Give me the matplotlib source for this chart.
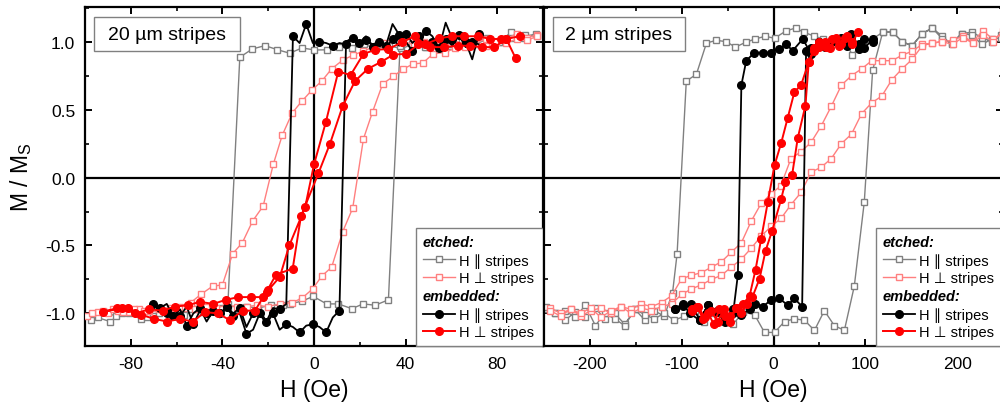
import matplotlib.pyplot as plt
from matplotlib.lines import Line2D
from matplotlib.patches import Rectangle
from matplotlib.ticker import MultipleLocator

plt.rcParams['font.family'] = ['Liberation Sans', 'DejaVu Sans']
plt.rcParams['axes.unicode_minus'] = False

# ---- 20 um stripes (left panel); each loop = descending branch + ascending branch ----
h20_etch_par = [97.4, 92, 86.6, 81.2, 75.8, 70.4, 65, 59.6, 54.2, 48.8, 43.4, 38, 32.6, 27.2, 21.8, 16.4, 11, 5.6, 0.2, -5.2,
                -10.6, -16, -21.4, -27, -32.4, -37.6, -43.2, -48.6, -54, -59.4, -64.8, -70.2, -75.6, -81, -86.4, -91.8, -97.2,
                -94.5, -89.1, -83.7, -78.3, -72.9, -67.5, -62.1, -56.7, -51.3, -45.9, -40.5, -35.1, -29.7, -24.3, -18.9, -13.4,
                -10.5, -5.4, -0.3, 5.5, 10.6, 16.5, 21.5, 26.7, 32.5, 37.6, 43, 48.4, 53.8, 59.2, 64.6, 70, 75.4, 80.8, 86.2, 91.6, 97]
m20_etch_par = [1.04, 1.05, 1.03, 1.0, 1.02, 0.98, 1.0, 0.97, 1.0, 0.96, 0.98, 0.95, 0.97, 0.95, 0.98, 0.95, 0.96, 0.94, 0.939, 0.954,
                0.915, 0.941, 0.971, 0.946, 0.885, -0.93, -0.97, -0.99, -0.97, -1.0, -0.98, -1.02, -1.04, -1.0, -1.02, -0.99, -1.05,
                -1.03, -1.06, -1.0, -0.98, -1.03, -1.0, -0.99, -1.01, -0.97, -0.98, -0.96, -0.97, -0.95, -0.96, -0.94, -0.94,
                -0.93, -0.91, -0.875, -0.93, -0.93, -0.965, -0.93, -0.94, -0.90, 0.97, 0.98, 0.96, 0.99, 0.98, 1.0, 0.99, 1.03, 1.0, 1.07, 1.03, 1.06]

h20_etch_perp = [97.5, 93, 88.5, 84, 79.5, 75, 70.5, 66, 61.5, 57, 52.5, 48, 43.5, 39, 34.5, 30, 25.8, 21.4, 17, 12.6,
                 7.7, 3.4, -0.7, -5.4, -9.5, -13.9, -17.8, -22.2, -26.8, -31.3, -35.5, -40, -44.3, -49.4, -53.8, -58.5, -63, -67.5,
                 -72, -76.5, -81, -85.5, -90, -94.5, -99,
                 -96.8, -92.3, -87.8, -83.3, -78.8, -74.3, -69.8, -65.3, -60.8, -56.3, -51.8, -47.3, -42.8, -38.3, -33.8, -29.3,
                 -24.8, -20.3, -14.9, -9.7, -5.4, -0.6, 3.4, 7.7, 12.5, 16.9, 21.6, 25.6, 30, 34.7, 39, 43.4, 47.5, 52, 57, 61.5,
                 66, 70.5, 75, 79.5, 84, 88.5, 93, 97.5]
m20_etch_perp = [1.05, 1.03, 1.06, 1.02, 1.0, 1.02, 0.99, 1.0, 0.98, 0.99, 0.99, 1.0, 0.98, 1.0, 1.02, 0.99, 0.96, 0.93, 0.90, 0.865,
                 0.80, 0.71, 0.647, 0.56, 0.476, 0.31, 0.096, -0.21, -0.32, -0.48, -0.56, -0.79, -0.80, -0.86, -0.92, -0.95, -0.96, -0.97,
                 -0.98, -0.97, -0.99, -0.98, -1.0, -0.99, -1.02,
                 -1.0, -0.98, -0.97, -0.99, -0.97, -0.98, -0.96, -0.98, -0.97, -0.96, -0.97, -0.95, -0.96, -0.94, -0.95, -0.95,
                 -0.94, -0.95, -0.93, -0.92, -0.89, -0.82, -0.725, -0.66, -0.40, -0.225, 0.285, 0.485, 0.69, 0.745, 0.80, 0.836, 0.843, 0.91, 0.92, 0.95,
                 0.96, 0.98, 0.97, 1.0, 0.99, 1.02, 1.01, 1.04]

h20_emb_par = [72.0, 69.1, 66.2, 63.3, 60.4, 57.5, 54.6, 51.7, 48.8, 45.9, 43.0, 40.1, 37.2, 34.3, 31.4, 28.5, 25.6, 22.7, 19.8, 16.9,
               14.0, 11.1, 8.2, 5.3, 2.4, -0.5, -3.4, -6.3, -9.2, -12.1, -15.0, -17.9, -20.8, -23.7, -26.6, -29.5, -32.4, -35.3, -38.2, -41.1,
               -44.0, -46.9, -49.8, -52.7, -55.6, -58.5, -61.4, -64.3, -67.2, -70.1,
               -70.1, -67.2, -64.3, -61.4, -58.5, -55.6, -52.7, -49.8, -46.9, -44.0, -41.1, -38.2, -35.3, -32.4, -29.5, -26.6, -23.7, -20.8,
               -17.9, -15.0, -12.1, -9.2, -6.3, -3.4, -0.5, 2.4, 5.3, 8.2, 11.1, 14.0, 16.9, 19.8, 22.7, 25.6, 28.5, 31.4, 34.3, 37.2,
               40.1, 43.0, 45.9, 48.8, 51.7, 54.6, 57.5, 60.4, 63.3, 66.2, 69.1, 72.0]
m20_emb_par = [1.06, 0.87, 1.0, 0.96, 1.02, 1.14, 0.95, 1.04, 1.08, 0.98, 0.93, 1.0, 1.05, 1.13, 0.97, 1.0, 0.96, 1.04, 0.99, 1.02,
               0.98, 0.99, 0.97, 0.99, 1.0, 0.99, 1.13, 0.99, 1.04, -0.93, -0.97, -0.96, -1.06, -0.98, -1.0, -1.1, -0.96, -1.0, -0.95, -1.03,
               -0.98, -1.06, -0.96, -1.0, -1.09, -0.97, -1.02, -0.93, -0.96, -0.94,
               -0.93, -0.97, -1.0, -0.96, -1.02, -0.95, -1.08, -0.98, -1.0, -0.96, -1.0, -0.96, -1.02, -1.0, -1.15, -1.12, -1.0, -1.08,
               -1.0, -1.12, -1.08, -1.1, -1.14, -1.09, -1.08, -1.1, -1.14, -1.03, -0.98, 1.0, 1.03, 0.97, 1.01, 0.98, 1.0, 0.96, 1.02, 0.97,
               1.06, 0.99, 1.04, 0.98, 1.0, 0.96, 1.02, 0.97, 1.05, 0.96, 1.0, 0.98]

h20_emb_perp = [89.8, 84, 81.7, 77, 71.4, 65.7, 60.2, 54.8, 48.5, 44, 38.3, 32.5, 26.7, 21.6, 16, 10.6, 5.2, 0, -3.9, -10.8,
                -14.9, -20, -22.4, -27.7, -33, -38.5, -44, -49.8, -55.2, -60.8, -66, -72, -78, -84, -92,
                -86, -81.2, -75.4, -69.9, -64.1, -58.6, -52.8, -47.7, -42, -36.7, -31.2, -25.8, -20.7, -16.6, -9.3, -5.7, 1.9, 7, 12.5, 17.9,
                23.5, 29.2, 34.7, 40.2, 45.6, 50.5, 56.6, 62.9, 68.2, 73.3, 78.7, 84, 88]
m20_emb_perp = [1.04, 1.02, 1.02, 1.02, 1.04, 1.04, 1.04, 1.025, 0.98, 1.04, 0.995, 0.946, 0.94, 0.91, 0.755, 0.78, 0.41, 0.096, -0.22, -0.50,
                -0.73, -0.83, -0.88, -0.88, -0.88, -0.90, -0.93, -0.915, -0.94, -0.95, -0.98, -0.97, -1.0, -0.96, -0.99,
                -0.96, -0.96, -1.01, -1.04, -1.06, -1.04, -1.06, -0.99, -1.0, -1.05, -0.98, -0.98, -0.84, -0.715, -0.67, -0.285, 0.03, 0.25, 0.525, 0.71,
                0.80, 0.85, 0.905, 0.91, 0.98, 0.96, 0.96, 0.97, 0.97, 0.96, 0.96, 1.02, 0.88]

# ---- 2 um stripes (right panel) ----
h2_etch_par = [248, 238, 227, 216, 205, 194, 184, 173, 162, 151, 140, 130, 119, 108, 97, 86, 76, 65, 54, 44.6,
               33, 24, 13.8, 1.1, -9, -19.9, -30.4, -41.6, -51.4, -62.3, -73, -84, -95, -105, -110, -119, -130, -140, -151, -162,
               -173, -184, -194, -205, -216, -227, -238, -248,
               -248, -238, -227, -216, -205, -194, -184, -173, -162, -151, -140, -130, -119, -108, -97, -86, -76, -65, -54, -44,
               -33, -20.6, -9.8, 1.1, 12, 22.6, 33.7, 44.6, 55.4, 66.3, 77.2, 88, 98.9, 108, 119, 130, 140, 151, 162, 173,
               184, 194, 205, 216, 227, 238, 248]
m2_etch_par = [1.05, 1.0, 1.03, 1.07, 1.06, 0.98, 1.04, 1.1, 1.06, 0.97, 1.0, 1.07, 1.07, 1.02, 0.99, 0.90, 1.03, 1.0, 1.02, 1.04,
               1.07, 1.10, 1.08, 1.025, 1.04, 1.02, 0.995, 0.96, 1.0, 1.01, 0.99, 0.76, 0.71, -0.56, -0.85, -1.02, -0.98, -1.05, -0.97, -1.08,
               -1.0, -1.04, -0.96, -1.03, -0.99, -1.05, -1.0, -0.97,
               -0.95, -1.0, -0.98, -1.03, -0.94, -1.09, -1.0, -1.04, -1.09, -0.97, -1.01, -1.04, -1.0, -1.05, -1.02, -0.98, -1.06, -1.0, -1.03, -1.08,
               -0.99, -1.01, -1.14, -1.14, -1.06, -1.04, -1.05, -1.125, -0.98, -1.09, -1.125, -0.80, -0.18, 0.79, 1.07, 1.07, 1.0, 0.97, 1.06, 1.1,
               1.02, 0.99, 1.06, 1.05, 0.98, 1.02, 1.03]

h2_etch_perp = [250, 239, 228, 217, 206, 195, 184, 173, 162, 151, 140, 129, 118, 107, 96, 85, 74, 63, 52, 41,
                30, 19, 8, -2.5, -13.4, -24.2, -35, -46, -56.8, -67.7, -78.6, -89.5, -100, -111, -122, -133, -144, -155, -166, -177,
                -188, -199, -210, -221, -232, -243,
                -243, -232, -221, -210, -199, -188, -177, -166, -155, -144, -133, -122, -111, -100, -89.5, -78.6, -67.7, -56.8, -46, -35,
                -24.2, -13.4, -2.5, 8.3, 19, 30, 41, 52, 63, 74, 85, 96, 107, 118, 129, 140, 151, 162, 173, 184,
                195, 206, 217, 228, 239, 250]
m2_etch_perp = [1.06, 1.02, 1.08, 1.0, 1.04, 1.01, 1.0, 0.99, 0.98, 0.93, 0.90, 0.86, 0.86, 0.86, 0.80, 0.75, 0.68, 0.525, 0.38, 0.26,
                0.19, 0.14, -0.06, -0.12, -0.19, -0.32, -0.48, -0.55, -0.62, -0.66, -0.70, -0.72, -0.745, -0.87, -0.92, -0.95, -0.93, -0.97, -0.95, -1.0,
                -0.96, -0.98, -1.02, -0.97, -1.0, -0.96,
                -0.98, -1.02, -0.97, -1.0, -0.96, -1.03, -0.98, -0.95, -1.0, -0.96, -0.98, -0.95, -0.93, -0.86, -0.82, -0.79, -0.75, -0.72, -0.66, -0.60,
                -0.52, -0.43, -0.36, -0.30, -0.20, -0.11, 0.04, 0.076, 0.14, 0.25, 0.32, 0.47, 0.55, 0.60, 0.72, 0.80, 0.87, 0.97, 0.99, 1.0,
                0.98, 1.03, 0.99, 1.05, 1.0, 1.08]

h2_emb_par = [108, 98.9, 93.5, 84.5, 73.6, 62.7, 50, 41, 31.9, 21, 13.8, 6.5, -2.5, -11.6, -20.7, -29.7, -35, -38.8, -44, -53,
              -62, -71.4, -80.4, -89.5, -98.6, -107.6,
              -107.6, -98.6, -91.3, -80.4, -71.4, -62, -53, -44, -35, -26, -20.6, -11.6, -2.5, 6.5, 15.5, 22.8, 31.2, 35.5, 41, 50,
              56.6, 62.7, 73.6, 80, 84.5, 93.5, 98.9, 108]
m2_emb_par = [1.02, 0.95, 0.946, 1.06, 1.03, 0.995, 0.995, 0.91, 1.02, 0.934, 0.98, 0.946, 0.92, 0.92, 0.92, 0.86, 0.68, -0.715, -1.0, -1.04,
              -0.98, -0.94, -1.05, -0.93, -0.945, -0.965,
              -0.965, -0.93, -1.0, -1.05, -0.94, -0.99, -1.06, -0.97, -1.01, -0.97, -0.93, -0.95, -0.90, -0.89, -0.94, -0.89, -0.95, 0.93, 0.95, 1.0,
              0.96, 1.0, 1.02, 0.97, 1.03, 0.98, 1.02, 1.0]

h2_emb_perp = [92, 85, 78, 71, 64, 57, 50, 44, 38.4, 30, 22.8, 15.5, 8.4, 1.1, -6.2, -13.4, -19.6, -26, -33, -40,
               -47, -54, -61, -68, -75, -82, -89,
               -89, -83, -77, -71, -65, -59, -53, -47, -41, -35, -29, -23, -15.2, -8.7, -1.4, 8.3, 13, 20.3, 26.4, 34.8,
               38.4, 44, 50, 56, 62, 68, 74, 80, 86]
m2_emb_perp = [1.07, 0.98, 1.03, 0.97, 1.02, 0.96, 1.0, 0.95, 0.85, 0.68, 0.63, 0.44, 0.255, 0.09, -0.18, -0.45, -0.68, -0.87, -0.93, -0.96,
               -1.02, -0.97, -1.06, -0.98, -1.03, -0.95, -0.97,
               -0.98, -0.95, -1.04, -1.0, -1.08, -0.97, -1.02, -1.06, -0.96, -1.0, -0.93, -0.88, -0.745, -0.54, -0.39, -0.16, -0.03, 0.02, 0.29, 0.53,
               0.85, 0.93, 0.96, 1.0, 0.95, 1.03, 0.98, 1.04, 1.0]

# styles
st_etch_par = dict(color='#808080', marker='s', mfc='white', mec='#808080', ms=4.7, mew=1.0, lw=1.0)
st_etch_perp = dict(color='#ff7f7f', marker='s', mfc='white', mec='#ff7f7f', ms=4.7, mew=1.0, lw=1.0)
st_emb_par = dict(color='black', marker='o', mec='black', ms=5.5, lw=1.3)
st_emb_perp = dict(color='#ff0000', marker='o', mec='#ff0000', ms=5.5, lw=1.4)

fig = plt.figure(figsize=(10, 4.14), dpi=100)
ax1 = fig.add_axes([0.085, 0.1618, 0.458, 0.8188])
ax2 = fig.add_axes([0.544, 0.1618, 0.459, 0.8188], sharey=ax1)


def draw_panel(ax, data, xlim, major, minor, box_text, box_w):
    (h_ep, m_ep), (h_et, m_et), (h_bp, m_bp), (h_bt, m_bt), every = data
    ax.axhline(0, color='black', lw=1.6, zorder=1)
    ax.axvline(0, color='black', lw=1.6, zorder=1)
    ax.plot(h_ep, m_ep, zorder=2, **st_etch_par)
    ax.plot(h_et, m_et, zorder=3, **st_etch_perp)
    ax.plot(h_bp, m_bp, zorder=4, markevery=every, **st_emb_par)
    ax.plot(h_bt, m_bt, zorder=5, **st_emb_perp)

    ax.set_xlim(*xlim)
    ax.set_ylim(-1.24, 1.255)
    ax.xaxis.set_major_locator(MultipleLocator(major))
    ax.xaxis.set_minor_locator(MultipleLocator(minor))
    ax.yaxis.set_major_locator(MultipleLocator(0.5))
    ax.yaxis.set_minor_locator(MultipleLocator(0.25))
    ax.tick_params(which='both', direction='in', top=True, right=True, labelsize=12.5, pad=7)
    ax.tick_params(which='major', length=5, width=1.4)
    ax.tick_params(which='minor', length=3, width=1.2)
    for s in ax.spines.values():
        s.set_linewidth(1.6)
    ax.set_xlabel('H (Oe)', fontsize=16.5, labelpad=5)

    # label box
    ax.add_patch(Rectangle((0.02, 0.87), box_w, 0.1, transform=ax.transAxes,
                           facecolor='white', edgecolor='#808080', lw=1.0, zorder=6))
    ax.text(0.02 + box_w / 2, 0.92, box_text, transform=ax.transAxes, ha='center', va='center',
            fontsize=14, zorder=7)

    # legend
    blank = Line2D([], [], color='none', marker='none')
    handles = [blank, Line2D([], [], **st_etch_par), Line2D([], [], **st_etch_perp),
               blank, Line2D([], [], **st_emb_par), Line2D([], [], **st_emb_perp)]
    labels = ['etched:', 'H \u2225 stripes', 'H \u22a5 stripes', 'embedded:', 'H \u2225 stripes', 'H \u22a5 stripes']
    fs = 10.5
    hl, hp = 2.2, 0.25
    leg = ax.legend(handles, labels, loc='lower right', borderaxespad=0, fontsize=fs, handlelength=hl,
                    handletextpad=hp, labelspacing=0.26, borderpad=0.45, fancybox=False, framealpha=1,
                    edgecolor='#808080')
    leg.get_frame().set_linewidth(1.0)
    leg.set_zorder(8)
    shift = (hl + hp) * fs * fig.dpi / 72
    for i in (0, 3):
        t = leg.get_texts()[i]
        t.set_fontweight('bold')
        t.set_fontstyle('italic')
        t.set_x(-shift)


draw_panel(ax1, [(h20_etch_par, m20_etch_par), (h20_etch_perp, m20_etch_perp),
                 (h20_emb_par, m20_emb_par), (h20_emb_perp, m20_emb_perp), 2],
           (-100, 100), 40, 20, '20 \u00b5m stripes', 0.318)
draw_panel(ax2, [(h2_etch_par, m2_etch_par), (h2_etch_perp, m2_etch_perp),
                 (h2_emb_par, m2_emb_par), (h2_emb_perp, m2_emb_perp), None],
           (-250, 250), 100, 50, '2 \u00b5m stripes', 0.287)

ax2.tick_params(labelleft=False)
ax1.yaxis.set_major_formatter(plt.FormatStrFormatter('%.1f'))
ax1.set_ylabel('M / M$_\\mathregular{S}$', fontsize=16.5, labelpad=8)

fig.savefig('out.png', dpi=100)
